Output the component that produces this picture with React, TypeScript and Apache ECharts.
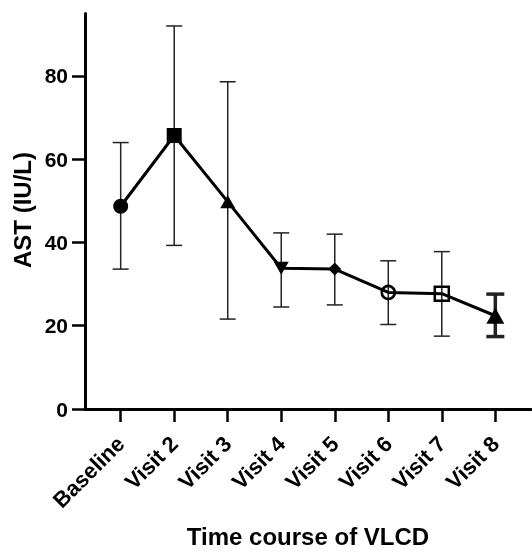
import React, { useEffect, useRef } from "react";
import * as echarts from "echarts";

const categories = ["Baseline", "Visit 2", "Visit 3", "Visit 4", "Visit 5", "Visit 6", "Visit 7", "Visit 8"];
const meanValues = [48.7, 65.7, 49.8, 33.8, 33.6, 28.0, 27.7, 22.4];
const upperValues = [64.0, 92.0, 78.6, 42.3, 42.0, 35.6, 37.8, 27.6];
const lowerValues = [33.6, 39.3, 21.6, 24.5, 25.0, 20.3, 17.5, 17.4];
const yTicks = [0, 20, 40, 60, 80];

const FONT = "'Liberation Sans', Arial, Helvetica, sans-serif";

const filled = { color: "#000", borderWidth: 0 };
const open = { color: "rgba(0,0,0,0)", borderColor: "#000", borderWidth: 2.5 };
const markerStyles: any[] = [
  { symbol: "circle", symbolSize: 15, itemStyle: filled },
  { symbol: "rect", symbolSize: 15, itemStyle: filled },
  { symbol: "triangle", symbolSize: [15, 13], itemStyle: filled },
  { symbol: "triangle", symbolSize: [15, 13], symbolRotate: 180, itemStyle: filled },
  { symbol: "diamond", symbolSize: [13, 13], itemStyle: filled },
  { symbol: "circle", symbolSize: 13, itemStyle: open },
  { symbol: "rect", symbolSize: 14, itemStyle: open },
  { symbol: "triangle", symbolSize: [18, 16], itemStyle: filled },
];

export default function App() {
  const ref = useRef<HTMLDivElement>(null);
  useEffect(() => {
    if (!ref.current) return;
    const chart = echarts.init(ref.current, null, { renderer: "svg" });
    const positions = categories.map((_, i) => i + 1);
    const lineData = categories.map((_, i) => ({
      value: [positions[i], meanValues[i]],
      ...markerStyles[i],
    }));
    const errData = categories.map((_, i) => [positions[i], lowerValues[i], upperValues[i]]);
    const last = categories.length - 1;

    chart.setOption({
      animation: false,
      grid: { left: 85, right: 1, top: 13.5, bottom: 145, containLabel: false, outerBoundsMode: "none" },
      xAxis: {
        type: "value",
        min: 1 - 2 / 3,
        max: categories.length + 2 / 3,
        splitLine: { show: false },
        axisLine: { show: true, onZero: false, lineStyle: { color: "#000", width: 3 } },
        axisTick: { show: true, length: 13, customValues: positions, lineStyle: { color: "#000", width: 2.5 } },
        axisLabel: {
          customValues: positions,
          rotate: 45,
          margin: 31,
          fontSize: 22,
          fontWeight: "bold",
          fontFamily: FONT,
          color: "#000",
          formatter: (v: number) => categories[Math.round(v) - 1] ?? "",
        },
      },
      yAxis: {
        type: "value",
        min: 0,
        max: 95,
        splitLine: { show: false },
        axisLine: { show: true, lineStyle: { color: "#000", width: 3 } },
        axisTick: { show: true, length: 13, customValues: yTicks, lineStyle: { color: "#000", width: 2.5 } },
        axisLabel: {
          customValues: yTicks,
          margin: 17,
          fontSize: 21,
          fontWeight: "bold",
          fontFamily: FONT,
          color: "#000",
        },
      },
      graphic: [
        {
          type: "text",
          x: 22,
          y: 210,
          rotation: Math.PI / 2,
          style: {
            text: "AST (IU/L)",
            font: `bold 24px ${FONT}`,
            fill: "#000",
            align: "center",
            verticalAlign: "middle",
          },
        },
        {
          type: "text",
          x: 308,
          y: 536,
          style: {
            text: "Time course of VLCD",
            font: `bold 24px ${FONT}`,
            fill: "#000",
            align: "center",
            verticalAlign: "middle",
          },
        },
      ],
      series: [
        {
          type: "custom",
          z: 1,
          data: errData,
          renderItem: (params: any, api: any) => {
            const x = api.value(0);
            const lo = api.value(1);
            const hi = api.value(2);
            const top = api.coord([x, hi]);
            const bot = api.coord([x, lo]);
            const thick = params.dataIndex === last;
            const w = thick ? 3.5 : 1.5;
            const half = thick ? 9 : 8;
            const style = { stroke: "#222", lineWidth: w };
            return {
              type: "group",
              children: [
                { type: "line", shape: { x1: top[0], y1: top[1], x2: bot[0], y2: bot[1] }, style },
                { type: "line", shape: { x1: top[0] - half, y1: top[1], x2: top[0] + half, y2: top[1] }, style },
                { type: "line", shape: { x1: bot[0] - half, y1: bot[1], x2: bot[0] + half, y2: bot[1] }, style },
              ],
            };
          },
        },
        {
          type: "line",
          z: 2,
          data: lineData,
          lineStyle: { color: "#000", width: 3 },
          showAllSymbol: true,
        },
      ],
    });
    return () => chart.dispose();
  }, []);
  return <div ref={ref} style={{ position: "fixed", left: 0, top: 0, width: 532, height: 554 }} />;
}
